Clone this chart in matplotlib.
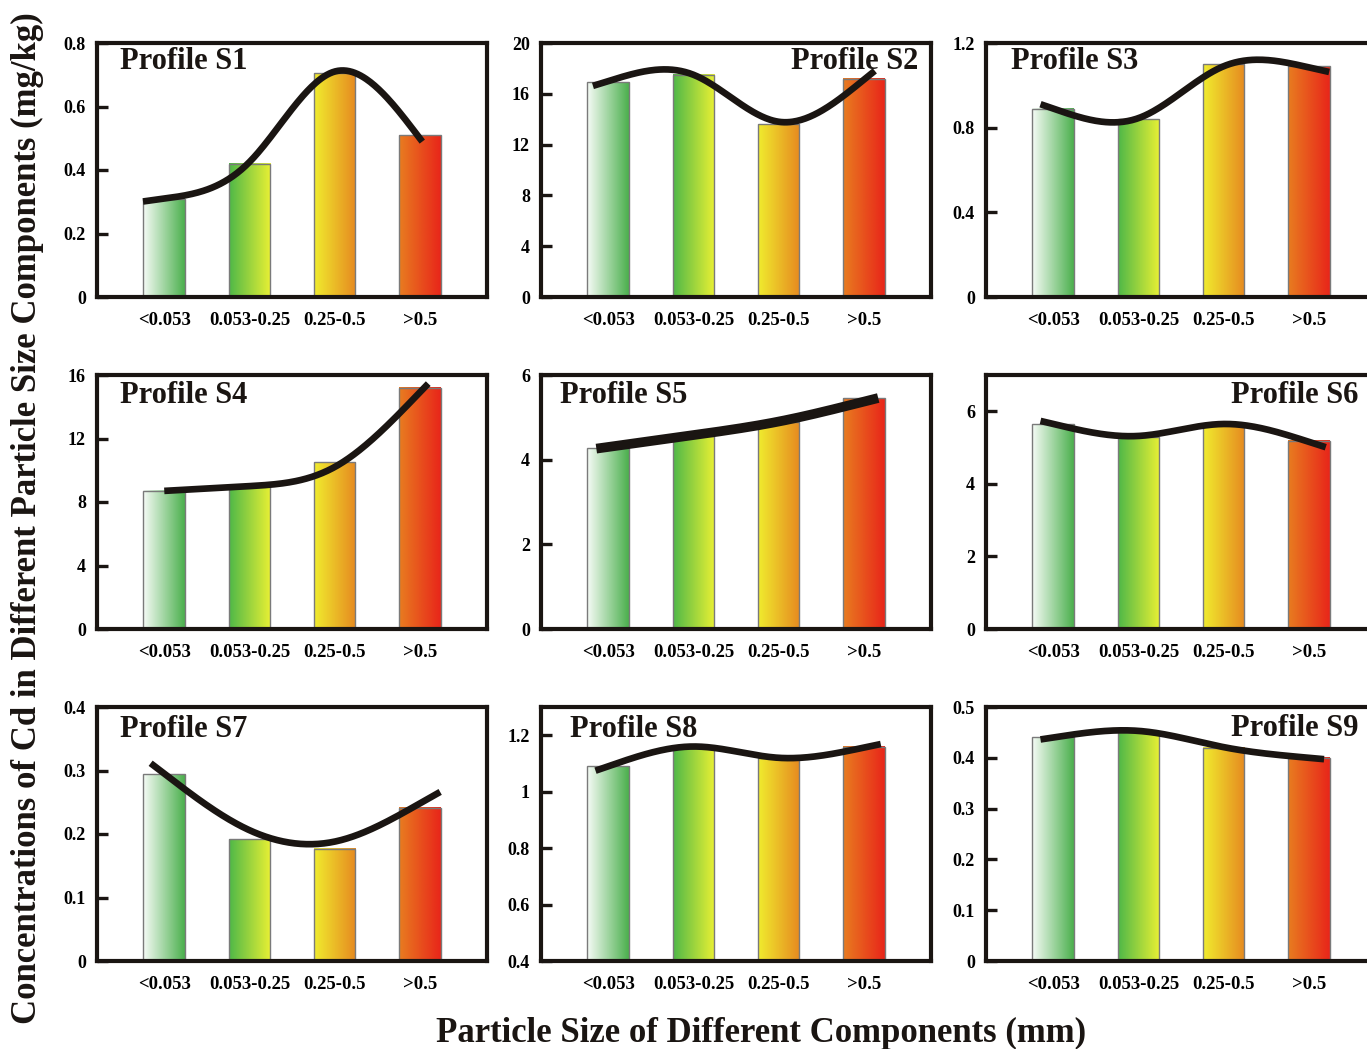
import numpy as np
import matplotlib.pyplot as plt
from matplotlib.colors import to_rgb

plt.rcParams['font.family'] = ['Liberation Serif', 'DejaVu Serif']
plt.rcParams['font.weight'] = 'bold'

sizes = ['<0.053', '0.053-0.25', '0.25-0.5', '>0.5']
profiles = ['Profile S1', 'Profile S2', 'Profile S3',
            'Profile S4', 'Profile S5', 'Profile S6',
            'Profile S7', 'Profile S8', 'Profile S9']

# Cd concentration (mg/kg) per particle size, bars
cd_s1 = [0.31, 0.42, 0.705, 0.51]
cd_s2 = [16.9, 17.5, 13.6, 17.2]
cd_s3 = [0.89, 0.84, 1.10, 1.09]
cd_s4 = [8.7, 9.1, 10.5, 15.2]
cd_s5 = [4.27, 4.55, 4.88, 5.45]
cd_s6 = [5.64, 5.28, 5.62, 5.19]
cd_s7 = [0.294, 0.192, 0.177, 0.241]
cd_s8 = [1.09, 1.155, 1.12, 1.16]
cd_s9 = [0.44, 0.45, 0.42, 0.40]

# trend curve read at each size class
fit_s1 = [0.31, 0.425, 0.71, 0.50]
fit_s2 = [17.0, 17.5, 13.8, 17.1]
fit_s3 = [0.89, 0.845, 1.09, 1.085]
fit_s4 = [8.7, 9.0, 10.2, 14.9]
fit_s5 = [4.3, 4.58, 4.9, 5.37]
fit_s6 = [5.65, 5.32, 5.65, 5.16]
fit_s7 = [0.295, 0.206, 0.188, 0.248]
fit_s8 = [1.09, 1.16, 1.12, 1.156]
fit_s9 = [0.44, 0.453, 0.421, 0.40]

bars = [cd_s1, cd_s2, cd_s3, cd_s4, cd_s5, cd_s6, cd_s7, cd_s8, cd_s9]
fits = [fit_s1, fit_s2, fit_s3, fit_s4, fit_s5, fit_s6, fit_s7, fit_s8, fit_s9]

ylims = [(0, 0.8), (0, 20), (0, 1.2), (0, 16), (0, 6), (0, 7),
         (0, 0.4), (0.4, 1.3), (0, 0.5)]
yticks = [[0, 0.2, 0.4, 0.6, 0.8], [0, 4, 8, 12, 16, 20], [0, 0.4, 0.8, 1.2],
          [0, 4, 8, 12, 16], [0, 2, 4, 6], [0, 2, 4, 6],
          [0, 0.1, 0.2, 0.3, 0.4], [0.4, 0.6, 0.8, 1, 1.2],
          [0, 0.1, 0.2, 0.3, 0.4, 0.5]]

# styling / layout
grad = [('#f6fbf6', '#4cb04e'), ('#4fb848', '#e8f034'),
        ('#f0ec2e', '#e68a20'), ('#e87c20', '#e8261a')]
curve_span = [(-0.25, 3.03), (-0.18, 3.13), (-0.15, 3.24),
              (0.0, 3.1), (-0.14, 3.17), (-0.15, 3.2),
              (-0.16, 3.24), (-0.15, 3.2), (-0.15, 3.18)]
curve_lw = [4.8, 4.8, 4.8, 4.8, 7.0, 4.8, 4.8, 4.8, 4.8]
title_pos = [('left', 0.059, 0.898), ('right', 0.967, 0.898), ('left', 0.064, 0.898),
             ('left', 0.059, 0.891), ('left', 0.048, 0.891), ('right', 0.955, 0.891),
             ('left', 0.059, 0.883), ('left', 0.074, 0.883), ('right', 0.955, 0.886)]


def smooth(xk, yk, xs):
    # natural cubic spline through the read points, straight beyond the ends
    xk = np.asarray(xk, float)
    yk = np.asarray(yk, float)
    n = len(xk)
    h = np.diff(xk)
    A = np.zeros((n, n))
    b = np.zeros(n)
    A[0, 0] = A[-1, -1] = 1
    for j in range(1, n - 1):
        A[j, j - 1] = h[j - 1]
        A[j, j] = 2 * (h[j - 1] + h[j])
        A[j, j + 1] = h[j]
        b[j] = 6 * ((yk[j + 1] - yk[j]) / h[j] - (yk[j] - yk[j - 1]) / h[j - 1])
    M = np.linalg.solve(A, b)
    out = np.empty_like(xs)
    for m, xv in enumerate(xs):
        if xv < xk[0]:
            s0 = (yk[1] - yk[0]) / h[0] - h[0] * (2 * M[0] + M[1]) / 6
            out[m] = yk[0] + s0 * (xv - xk[0])
            continue
        if xv > xk[-1]:
            s1 = (yk[-1] - yk[-2]) / h[-1] + h[-1] * (M[-2] + 2 * M[-1]) / 6
            out[m] = yk[-1] + s1 * (xv - xk[-1])
            continue
        j = min(np.searchsorted(xk, xv, side='right') - 1, n - 2)
        a = xk[j + 1] - xv
        d = xv - xk[j]
        out[m] = (M[j] * a ** 3 / 6 + M[j + 1] * d ** 3 / 6) / h[j] \
            + (yk[j] / h[j] - M[j] * h[j] / 6) * a \
            + (yk[j + 1] / h[j] - M[j + 1] * h[j] / 6) * d
    return out


W, H = 1367, 1049
fig = plt.figure(figsize=(W / 100, H / 100), dpi=100)
col_left = [97, 541, 986]
row_top = [43, 375, 707]
aw, ah = 390, 254

ink = '#1a1512'
x = np.arange(4)
bw = 0.49

for i in range(9):
    r, c = divmod(i, 3)
    ax = fig.add_axes([col_left[c] / W, 1 - (row_top[r] + ah) / H, aw / W, ah / H])
    vals = bars[i]
    for k in range(4):
        c0, c1 = np.array(to_rgb(grad[k][0])), np.array(to_rgb(grad[k][1]))
        t = np.linspace(0, 1, 64)[:, None]
        img = (c0 * (1 - t) + c1 * t)[None, :, :]
        ax.imshow(img, extent=[x[k] - bw / 2, x[k] + bw / 2, 0, vals[k]],
                  aspect='auto', zorder=1, interpolation='bilinear')
    ax.bar(x, vals, width=bw, facecolor='none', edgecolor='#7a7a7a',
           linewidth=1.0, zorder=2)

    xs = np.linspace(curve_span[i][0], curve_span[i][1], 200)
    ax.plot(xs, smooth(x, fits[i], xs), color=ink, lw=curve_lw[i],
            solid_capstyle='butt', zorder=3)

    ax.set_xlim(-0.79, 3.79)
    ax.set_ylim(*ylims[i])
    ax.set_yticks(yticks[i])
    ax.set_yticklabels(['%g' % v for v in yticks[i]])
    ax.set_xticks(x)
    ax.set_xticklabels(sizes)
    ax.tick_params(axis='y', direction='in', length=8, width=2.4, color=ink,
                   labelsize=13, pad=8)
    ax.tick_params(axis='x', length=0, labelsize=13.5, pad=11)
    for sp in ax.spines.values():
        sp.set_linewidth(3.0)
        sp.set_color(ink)
    ha, tx, ty = title_pos[i]
    ax.text(tx, ty, profiles[i], transform=ax.transAxes, ha=ha, va='baseline',
            fontsize=22, fontweight='bold', color=ink, zorder=4)

fig.text(27 / W, 1 - 518 / H,
         'Concentrations of Cd in Different Particle Size Components (mg/kg)',
         rotation=90, ha='center', va='center', fontsize=25, fontweight='bold',
         color=ink)
fig.text(761 / W, 1 - 1033 / H, 'Particle Size of Different Components (mm)',
         ha='center', va='center', fontsize=25, fontweight='bold', color=ink)

fig.savefig('out.png', dpi=100)
